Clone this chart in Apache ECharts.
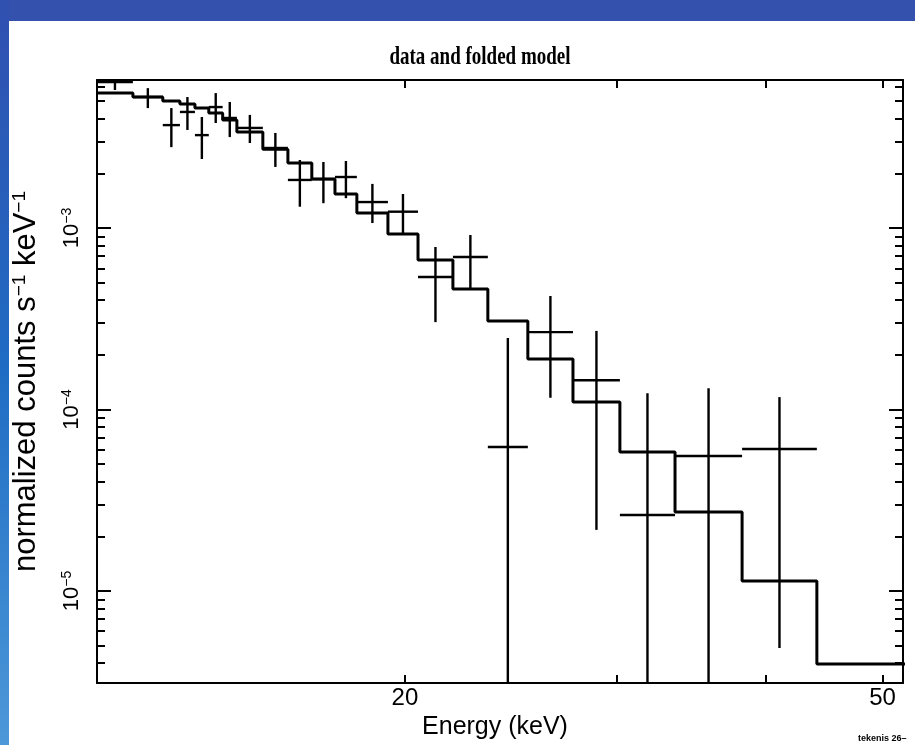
<!DOCTYPE html>
<html>
<head>
<meta charset="utf-8">
<script src="https://cdn.jsdelivr.net/npm/echarts@6/dist/echarts.min.js"></script>
<style>
  html, body { margin: 0; padding: 0; background: #ffffff; }
  #chart { width: 915px; height: 745px; }
</style>
</head>
<body>
<div id="chart"></div>
<script>
// ---- data ----
const binEdges = [11.08, 11.87, 12.57, 12.99, 13.37, 13.73, 14.10, 14.49, 15.23, 15.98, 16.73, 17.49,
                  18.24, 19.36, 20.51, 21.93, 23.45, 25.32, 27.61, 30.21, 33.58, 38.19, 44.08, 53.0];
const modelCounts = [5.54e-3, 5.27e-3, 5.01e-3, 4.82e-3, 4.58e-3, 4.30e-3, 3.94e-3, 3.38e-3, 2.72e-3,
                     2.28e-3, 1.86e-3, 1.54e-3, 1.21e-3, 9.27e-4, 6.66e-4, 4.61e-4, 3.07e-4, 1.90e-4,
                     1.10e-4, 5.83e-5, 2.72e-5, 1.135e-5, 3.96e-6];
const dataCounts = [6.37e-3, 5.27e-3, 3.69e-3, 4.36e-3, 3.25e-3, 4.64e-3, 4.04e-3, 3.56e-3, 2.76e-3,
                    1.84e-3, 1.86e-3, 1.91e-3, 1.39e-3, 1.23e-3, 5.37e-4, 6.92e-4, 6.21e-5, 2.67e-4,
                    1.45e-4, 2.62e-5, 5.54e-5, 6.06e-5];
const dataUpper = [7.06e-3, 5.90e-3, 4.58e-3, 5.27e-3, 4.09e-3, 5.54e-3, 4.95e-3, 4.20e-3, 3.34e-3,
                   2.37e-3, 2.31e-3, 2.34e-3, 1.75e-3, 1.54e-3, 7.86e-4, 9.15e-4, 2.48e-4, 4.22e-4,
                   2.71e-4, 1.23e-4, 1.31e-4, 1.17e-4];
const dataLower = [5.76e-3, 4.58e-3, 2.79e-3, 3.47e-3, 2.40e-3, 3.79e-3, 3.17e-3, 2.94e-3, 2.17e-3,
                   1.31e-3, 1.37e-3, 1.46e-3, 1.065e-3, 9.27e-4, 3.03e-4, 4.67e-4, 0, 1.16e-4,
                   2.17e-5, 0, 0, 4.85e-6];

// ---- axes / ticks ----
const xMin = 11.08, xMax = 52.0;
const yMin = 3.11e-6, yMax = 6.54e-3;
const xTickValues = [20, 30, 40, 50];
const xLabelValues = [20, 50];
const yMajorValues = [1e-5, 1e-4, 1e-3];
const yMinorValues = [4e-6, 5e-6, 6e-6, 7e-6, 8e-6, 9e-6,
                      2e-5, 3e-5, 4e-5, 5e-5, 6e-5, 7e-5, 8e-5, 9e-5,
                      2e-4, 3e-4, 4e-4, 5e-4, 6e-4, 7e-4, 8e-4, 9e-4,
                      2e-3, 3e-3, 4e-3, 5e-3, 6e-3];

const titleText = 'data and folded model';
const xName = 'Energy (keV)';
const yName = 'normalized counts s{s|\u22121} keV{s|\u22121}';

// ---- build series data ----
const modelLine = modelCounts.map((v, i) => [binEdges[i], v]);
modelLine.push([binEdges[modelCounts.length], modelCounts[modelCounts.length - 1]]);

const crossData = dataCounts.map((v, i) => [binEdges[i], binEdges[i + 1], v, dataUpper[i], dataLower[i]]);

const chart = echarts.init(document.getElementById('chart'), null, { renderer: 'canvas' });

const SANS = '"Liberation Sans", Arial, Helvetica, sans-serif';
const ink = '#000000';

function renderCross(params, api) {
  const lo = api.value(0), hi = api.value(1), v = api.value(2), up = api.value(3), dn = api.value(4);
  const cs = params.coordSys;
  const xc = Math.sqrt(lo * hi);
  const pL = api.coord([lo, v]);
  const pR = api.coord([hi, v]);
  const pU = api.coord([xc, up]);
  const top = cs.y, bottom = cs.y + cs.height;
  const yTop = Math.max(pU[1], top);
  const yBot = dn > 0 ? Math.min(api.coord([xc, dn])[1], bottom) : bottom;
  const xL = Math.max(pL[0], cs.x);
  const xR = Math.min(pR[0], cs.x + cs.width);
  const st = { stroke: ink, lineWidth: 2.4 };
  return {
    type: 'group',
    children: [
      { type: 'line', shape: { x1: xL, y1: pL[1], x2: xR, y2: pR[1] }, style: st },
      { type: 'line', shape: { x1: pU[0], y1: yTop, x2: pU[0], y2: yBot }, style: st }
    ]
  };
}

const yLabelFmt = function (v) {
  const e = Math.round(Math.log10(v));
  return '{b|10}{s|\u2212' + Math.abs(e) + '}';
};

const axisLineStyle = { show: true, lineStyle: { color: ink, width: 2 } };

chart.setOption({
  backgroundColor: '#ffffff',
  animation: false,
  grid: { left: 97, right: 12, top: 80, bottom: 62, containLabel: false },
  graphic: [
    { type: 'rect', z: 100, shape: { x: 0, y: 0, width: 915, height: 21 }, style: { fill: '#3451ae' } },
    {
      type: 'rect', z: 100, shape: { x: 0, y: 0, width: 9, height: 745 },
      style: {
        fill: new echarts.graphic.LinearGradient(0, 0, 0, 1, [
          { offset: 0, color: '#3150b0' },
          { offset: 0.5, color: '#1f6cc4' },
          { offset: 1, color: '#4d98d8' }
        ])
      }
    },
    {
      type: 'text', z: 100, x: 480, y: 58, scaleY: 1.3,
      style: { text: titleText, font: 'bold 19px "Liberation Serif", "Times New Roman", serif', fill: ink,
               textAlign: 'center', textVerticalAlign: 'middle' }
    },
    {
      type: 'text', z: 100, x: 858, y: 739,
      style: { text: 'tekenis 26\u2013', font: 'bold 9px ' + SANS, fill: ink,
               textAlign: 'left', textVerticalAlign: 'middle' }
    }
  ],
  xAxis: [
    {
      type: 'log', logBase: 10, min: xMin, max: xMax, position: 'bottom',
      axisLine: axisLineStyle,
      axisTick: { show: true, inside: true, length: 8, customValues: xTickValues, lineStyle: { color: ink, width: 2 } },
      axisLabel: { show: true, customValues: xLabelValues, margin: 3, color: ink, fontSize: 24, fontFamily: SANS },
      splitLine: { show: false }, minorTick: { show: false },
      name: xName, nameLocation: 'middle', nameGap: 16,
      nameTextStyle: { fontSize: 25, fontFamily: SANS, color: ink, verticalAlign: 'top', padding: [0, 10, 0, 0] }
    },
    {
      type: 'log', logBase: 10, min: xMin, max: xMax, position: 'top',
      axisLine: axisLineStyle,
      axisTick: { show: true, inside: true, length: 8, customValues: xTickValues, lineStyle: { color: ink, width: 2 } },
      axisLabel: { show: false }, splitLine: { show: false }
    }
  ],
  yAxis: [
    {
      type: 'log', logBase: 10, min: yMin, max: yMax, position: 'left',
      axisLine: axisLineStyle,
      axisTick: { show: true, inside: true, length: 14, customValues: yMajorValues, lineStyle: { color: ink, width: 2 } },
      axisLabel: {
        show: true, customValues: yMajorValues, rotate: 90, margin: 14, formatter: yLabelFmt,
        rich: {
          b: { fontSize: 22, fontFamily: SANS, color: ink, lineHeight: 23 },
          s: { fontSize: 14, fontFamily: SANS, color: ink, lineHeight: 23, verticalAlign: 'top' }
        }
      },
      splitLine: { show: false },
      name: yName, nameLocation: 'middle', nameGap: 54,
      nameTextStyle: {
        fontSize: 31, fontFamily: SANS, color: ink,
        rich: { s: { fontSize: 19, fontFamily: SANS, color: ink, verticalAlign: 'top', lineHeight: 33 } }
      }
    },
    {
      type: 'log', logBase: 10, min: yMin, max: yMax, position: 'left',
      axisLine: { show: false },
      axisTick: { show: true, inside: true, length: 8, customValues: yMinorValues, lineStyle: { color: ink, width: 2 } },
      axisLabel: { show: false }, splitLine: { show: false }
    },
    {
      type: 'log', logBase: 10, min: yMin, max: yMax, position: 'right',
      axisLine: axisLineStyle,
      axisTick: { show: true, inside: true, length: 14, customValues: yMajorValues, lineStyle: { color: ink, width: 2 } },
      axisLabel: { show: false }, splitLine: { show: false }
    },
    {
      type: 'log', logBase: 10, min: yMin, max: yMax, position: 'right',
      axisLine: { show: false },
      axisTick: { show: true, inside: true, length: 8, customValues: yMinorValues, lineStyle: { color: ink, width: 2 } },
      axisLabel: { show: false }, splitLine: { show: false }
    }
  ],
  series: [
    {
      name: 'model', type: 'line', xAxisIndex: 0, yAxisIndex: 0,
      data: modelLine, step: 'end', symbol: 'none', clip: true,
      lineStyle: { color: ink, width: 3 }
    },
    {
      name: 'data', type: 'custom', xAxisIndex: 0, yAxisIndex: 0,
      data: crossData, renderItem: renderCross,
      encode: { x: [0, 1], y: 2 }
    }
  ]
});
</script>
</body>
</html>
